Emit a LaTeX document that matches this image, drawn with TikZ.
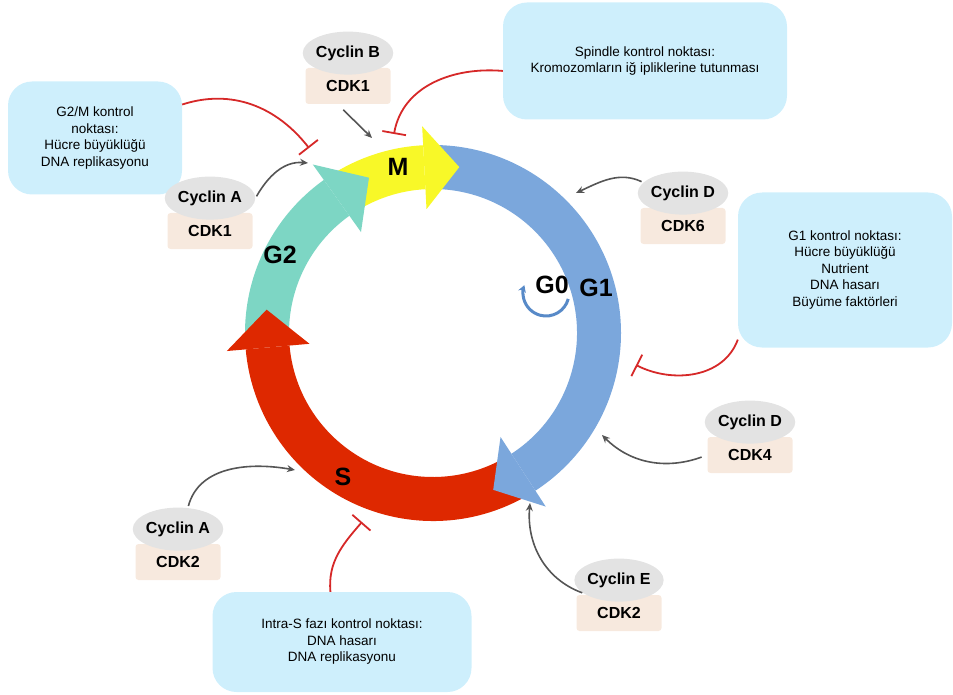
\documentclass[tikz,border=0pt]{standalone}
\usepackage{fontspec}
\setmainfont{Liberation Sans}
\usetikzlibrary{arrows.meta,positioning,shapes.geometric}
\definecolor{phBlue}{RGB}{123,167,220}
\definecolor{phRed}{RGB}{222,40,0}
\definecolor{phTeal}{RGB}{125,214,196}
\definecolor{phYellow}{RGB}{248,248,40}
\definecolor{gzBlue}{RGB}{88,138,200}
\definecolor{boxCyan}{RGB}{206,239,252}
\definecolor{cycGrey}{RGB}{227,227,227}
\definecolor{cdkPeach}{RGB}{247,233,222}
\definecolor{actGrey}{RGB}{85,85,85}
\definecolor{inhRed}{RGB}{214,40,40}

\begin{document}
\begin{tikzpicture}[x=1pt, y=-1pt,
      infobox/.style={fill=boxCyan, rounded corners=24pt, align=center, inner sep=0pt, font=\fontsize{13.5}{16.5}\selectfont},
      cdkbox/.style={fill=cdkPeach, rounded corners=3pt, minimum width=85pt, minimum height=36pt, inner sep=0pt, font=\fontsize{16}{18}\selectfont\bfseries},
      cycbox/.style={ellipse, fill=cycGrey, minimum width=86pt, minimum height=43pt, inner sep=0pt, font=\fontsize{16}{18}\selectfont\bfseries},
      phase/.style={font=\fontsize{25}{28}\selectfont\bfseries},
      act/.style={-{Stealth[length=8pt,width=7pt]}, line width=1.6pt, actGrey},
      inhib/.style={-{Bar[width=24pt]}, line width=1.8pt, inhRed},
      gzarrow/.style={-{Stealth[length=7pt,width=8pt]}, line width=3pt, gzBlue}
    ]
      \useasboundingbox (0,0) rectangle (953,695);

      \begin{scope}[shift={(433,333)}]
        \foreach \a/\b/\c in {269/417/phBlue, 59/175/phRed, 177/234.5/phTeal, 236.5/267/phYellow}
          \fill[\c] (\a:188) arc[start angle=\a, end angle=\b, radius=188] -- (\b:144) arc[start angle=\b, end angle=\a, radius=144] -- cycle;
        \foreach \b/\t/\c in {417/429/phBlue, 175/188/phRed, 234.5/247.6/phTeal, 267/279/phYellow}
          \fill[\c] (\b:186) -- (\b:207) -- (\t:168) -- (\b:124) -- (\b:146) -- cycle;
      \end{scope}

      \coordinate (gzc) at (546,293);
      \draw[gzarrow] ([shift={(15:23)}]gzc) arc[start angle=15, end angle=200, radius=23];

      \node[phase] (mLab) at (398,167) {M};
      \node[phase] (gtwoLab) at (280,255) {G2};
      \node[phase] (sLab) at (343,477) {S};
      \node[phase] (goneLab) at (596,288) {G1};
      \node[phase] (gzeroLab) at (552,285) {G0};

      \node[infobox, minimum width=174pt, minimum height=113pt] (gmBox) at (95,138) {G2/M kontrol\\noktası:\\Hücre büyüklüğü\\DNA replikasyonu};
      \node[infobox, minimum width=284pt, minimum height=117pt] (spBox) at (645,61) {Spindle kontrol noktası:\\Kromozomların iğ ipliklerine tutunması};
      \node[infobox, minimum width=214pt, minimum height=155pt] (goneBox) at (845,270) {G1 kontrol noktası:\\Hücre büyüklüğü\\Nutrient\\DNA hasarı\\Büyüme faktörleri};
      \node[infobox, minimum width=259pt, minimum height=100pt] (isBox) at (342,642) {Intra-S fazı kontrol noktası:\\DNA hasarı\\DNA replikasyonu};

      \node[cdkbox] (cdkB) at (348,86) {CDK1};
      \node[cycbox, above=-7pt of cdkB] (cycB) {Cyclin B};
      \node[cdkbox] (cdkAone) at (210,231) {CDK1};
      \node[cycbox, above=-7pt of cdkAone] (cycAone) {Cyclin A};
      \node[cdkbox] (cdkDsix) at (683,226) {CDK6};
      \node[cycbox, above=-7pt of cdkDsix] (cycDsix) {Cyclin D};
      \node[cdkbox] (cdkDfour) at (750,455) {CDK4};
      \node[cycbox, above=-7pt of cdkDfour] (cycDfour) {Cyclin D};
      \node[cdkbox] (cdkE) at (619,613) {CDK2};
      \node[cycbox, above=-7pt of cdkE] (cycE) {Cyclin E};
      \node[cdkbox] (cdkAtwo) at (178,562) {CDK2};
      \node[cycbox, above=-7pt of cdkAtwo] (cycAtwo) {Cyclin A};

      \coordinate (mTip) at (372,138);
      \coordinate (gmTip) at (308,163);
      \coordinate (dsixTip) at (576,193);
      \coordinate (dfourTip) at (602,435);
      \coordinate (eTip) at (530,503);
      \coordinate (sTip) at (295,470);
      \coordinate (gmBar) at (309,148);
      \coordinate (spBar) at (394,134);
      \coordinate (goneBar) at (636,365);
      \coordinate (isBar) at (362,522);

      \draw[act, shorten <=8pt] (cdkB.-120) -- (mTip);
      \draw[act, shorten <=2pt] (cycAone.east) to[out=60, in=175] (gmTip);
      \draw[act, shorten <=2pt] (cycDsix.165) to[out=155, in=25] (dsixTip);
      \draw[act, shorten <=6pt] (cdkDfour.west) to[out=200, in=-45] (dfourTip);
      \draw[act, shorten <=1pt] (cycE.200) to[out=160, in=-95] (eTip);
      \draw[act, shorten <=2pt] (cycAtwo.65) to[out=75, in=170] (sTip);

      \draw[inhib] (gmBox.21) to[out=18, in=128] (gmBar);
      \draw[inhib] (spBox.184) to[out=175, in=80] (spBar);
      \draw[inhib] (goneBox.213) to[out=-110, in=-27] (goneBar);
      \draw[inhib] (isBox.103) to[out=95, in=-131] (isBar);
    \end{tikzpicture}
\end{document}
